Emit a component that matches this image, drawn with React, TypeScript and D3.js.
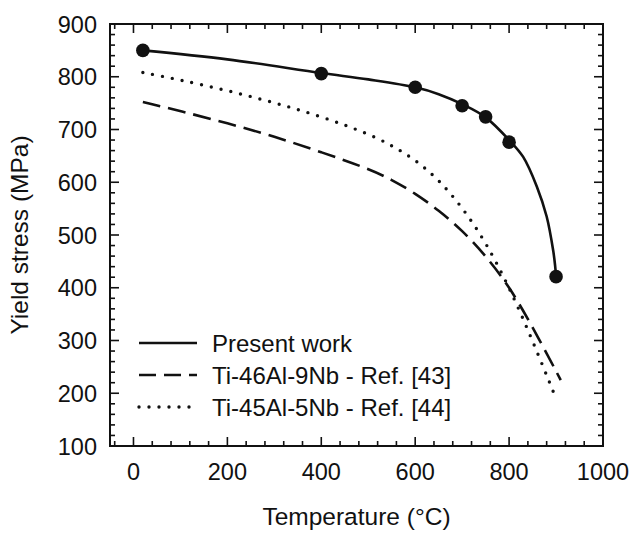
import React from "react";
import * as d3 from "d3";

// Present work: measured points
const presentTemps = [20, 400, 600, 700, 750, 800, 900];
const presentVals = [850, 806, 780, 745, 724, 676, 421];
const presentErr = [4, 8, 6, 7, 8, 8, 3];

// Present work: fitted curve
const fitTemps = [20, 200, 400, 500, 600, 650, 700, 750, 800, 830, 859, 880, 894, 898, 900];
const fitVals = [850, 833, 807, 795, 780, 767, 748, 723, 680, 648, 592, 535, 470, 442, 421];

// Ti-46Al-9Nb - Ref. [43]
const ref43Temps = [20, 100, 200, 300, 400, 500, 550, 600, 650, 700, 750, 800, 850, 910];
const ref43Vals = [752, 735, 712, 687, 657, 626, 605, 579, 547, 509, 461, 403, 326, 225];

// Ti-45Al-5Nb - Ref. [44]
const ref44Temps = [20, 100, 200, 300, 400, 500, 550, 600, 650, 700, 750, 800, 850, 900];
const ref44Vals = [808, 794, 774, 751, 725, 692, 670, 643, 605, 553, 487, 402, 300, 190];

const xMajor = [0, 200, 400, 600, 800, 1000];
const yMajor = [100, 200, 300, 400, 500, 600, 700, 800, 900];

const legendLabels = ["Present work", "Ti-46Al-9Nb - Ref. [43]", "Ti-45Al-5Nb - Ref. [44]"];

const W = 632, H = 533;
const L = 110, R = 603, T = 24, B = 446;
const FONT = "'Liberation Sans', Arial, sans-serif";
const INK = "#111";

export default function App() {
  const x = d3.scaleLinear().domain([-50, 1000]).range([L, R]);
  const y = d3.scaleLinear().domain([100, 900]).range([B, T]);

  const refLine = d3.line<[number, number]>().x(d => x(d[0])).y(d => y(d[1])).curve(d3.curveBasis);
  const fitLine = d3.line<[number, number]>().x(d => x(d[0])).y(d => y(d[1])).curve(d3.curveCatmullRom.alpha(0.5));
  const fitPath = fitLine(fitTemps.map((t, i) => [t, fitVals[i]]))!;
  const p43 = refLine(ref43Temps.map((t, i) => [t, ref43Vals[i]]))!;
  const p44 = refLine(ref44Temps.map((t, i) => [t, ref44Vals[i]]))!;

  const xMinor = d3.range(-40, 1001, 40);
  const yMinor = d3.range(100, 901, 20);
  const majLen = 9, minLen = 5;

  const legendY = [343, 375, 407];

  return (
    <svg width={W} height={H} style={{ position: "absolute", left: 0, top: 0, background: "#fff" }}>
      <rect x={0} y={0} width={W} height={H} fill="#fff" />
      {/* ticks */}
      <g stroke={INK} strokeWidth={1.6}>
        {xMinor.map(v => {
          const len = v % 200 === 0 ? majLen : minLen;
          return (
            <g key={"xt" + v}>
              <line x1={x(v)} x2={x(v)} y1={B} y2={B - len} />
              <line x1={x(v)} x2={x(v)} y1={T} y2={T + len} />
            </g>
          );
        })}
        {yMinor.map(v => {
          const len = v % 100 === 0 ? majLen : minLen;
          return (
            <g key={"yt" + v}>
              <line x1={L} x2={L + len} y1={y(v)} y2={y(v)} />
              <line x1={R} x2={R - len} y1={y(v)} y2={y(v)} />
            </g>
          );
        })}
      </g>
      <rect x={L} y={T} width={R - L} height={B - T} fill="none" stroke={INK} strokeWidth={2} />
      {/* tick labels */}
      <g fontFamily={FONT} fill={INK}>
        {xMajor.map(v => (
          <text key={"xl" + v} x={x(v)} y={480} textAnchor="middle" fontSize={23.5}>{v}</text>
        ))}
        {yMajor.map(v => (
          <text key={"yl" + v} x={97} y={y(v) + 8.5} textAnchor="end" fontSize={23.5}>{v}</text>
        ))}
        <text x={(L + R) / 2} y={525} textAnchor="middle" fontSize={24.5}>Temperature (°C)</text>
        <text transform={`translate(28,${(T + B) / 2}) rotate(-90)`} textAnchor="middle" fontSize={24.5}>Yield stress (MPa)</text>
      </g>
      {/* curves */}
      <path d={p43} fill="none" stroke={INK} strokeWidth={2.6} strokeDasharray="18,8" />
      <path d={p44} fill="none" stroke={INK} strokeWidth={3.4} strokeDasharray="0,10" strokeLinecap="round" />
      <path d={fitPath} fill="none" stroke={INK} strokeWidth={2.6} />
      {/* error bars and markers */}
      {presentTemps.map((t, i) => (
        <g key={"pt" + t}>
          <line x1={x(t)} x2={x(t)} y1={y(presentVals[i] - presentErr[i])} y2={y(presentVals[i] + presentErr[i])} stroke={INK} strokeWidth={2} />
          <line x1={x(t) - 4} x2={x(t) + 4} y1={y(presentVals[i] + presentErr[i])} y2={y(presentVals[i] + presentErr[i])} stroke={INK} strokeWidth={2} />
          <line x1={x(t) - 4} x2={x(t) + 4} y1={y(presentVals[i] - presentErr[i])} y2={y(presentVals[i] - presentErr[i])} stroke={INK} strokeWidth={2} />
          <circle cx={x(t)} cy={y(presentVals[i])} r={6.8} fill={INK} />
        </g>
      ))}
      {/* legend */}
      <g>
        <line x1={139} x2={197} y1={legendY[0]} y2={legendY[0]} stroke={INK} strokeWidth={2.6} />
        <line x1={139} x2={197} y1={legendY[1]} y2={legendY[1]} stroke={INK} strokeWidth={2.6} strokeDasharray="17,8" />
        <line x1={139} x2={197} y1={legendY[2]} y2={legendY[2]} stroke={INK} strokeWidth={3.4} strokeDasharray="0,10" strokeLinecap="round" />
        {legendLabels.map((s, i) => (
          <text key={s} x={212} y={legendY[i] + 8.5} fontFamily={FONT} fontSize={24} fill={INK}>{s}</text>
        ))}
      </g>
    </svg>
  );
}
